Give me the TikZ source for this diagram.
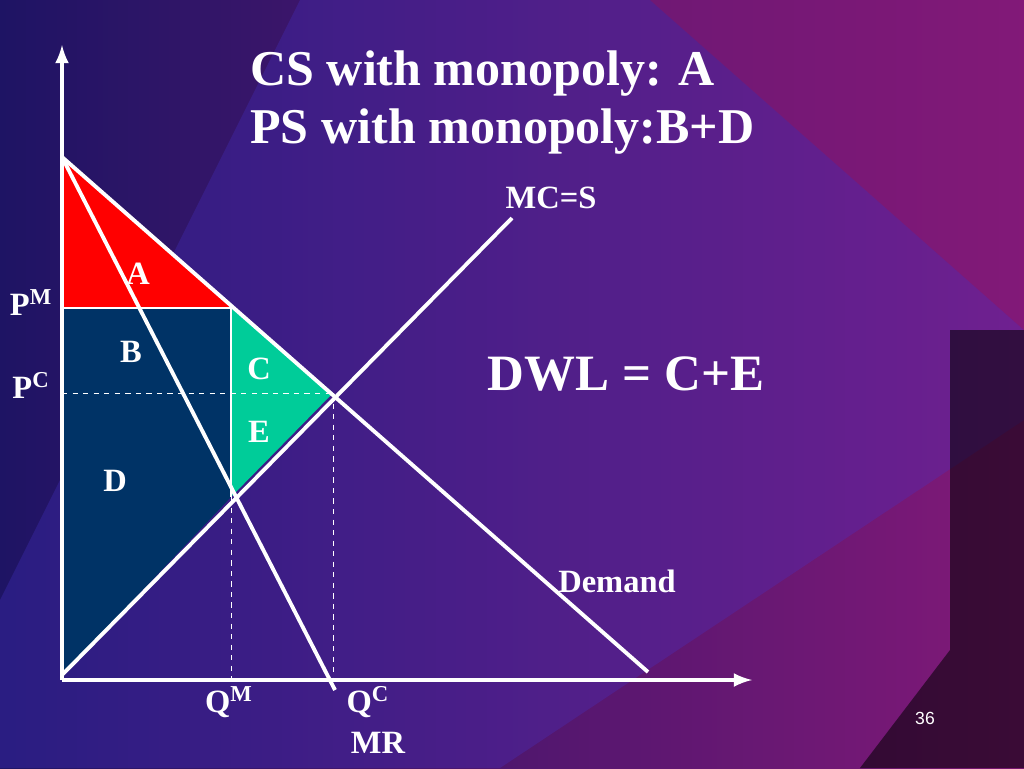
\documentclass[tikz,border=0pt]{standalone}
\usepackage{fontspec}
\setmainfont{Liberation Serif}
\newfontfamily\slidesans{Liberation Sans}
\usetikzlibrary{positioning}
\definecolor{bgdark}{RGB}{30,20,100}
\definecolor{bgmag}{RGB}{130,25,120}
\definecolor{bgblue}{RGB}{70,50,200}
\definecolor{areared}{RGB}{255,0,0}
\definecolor{areanavy}{RGB}{0,51,102}
\definecolor{areagreen}{RGB}{0,204,153}
\tikzset{
  curve/.style = {white, line width = 2.2pt},
  guide/.style = {white, dashed, line width = 0.4pt},
  lbl/.style = {white, font = \bfseries\fontsize{18.5}{18.5}\selectfont, inner sep = 0pt},
}
\begin{document}
\begin{tikzpicture}[x = 0.02cm, y = -0.02cm]
      \useasboundingbox (0,0) rectangle (1024,768);
      % background
      \shade [left color = bgdark, right color = bgmag] (0,0) rectangle (1024,768);
      \fill [bgblue, opacity = 0.3] (300,0) -- (650,0) -- (1024,330) -- (1024,420) -- (500,768) -- (0,768) -- (0,600) -- cycle;
      \fill [bgmag, opacity = 0.5] (650,0) -- (1024,0) -- (1024,330) -- cycle;
      \fill [black, opacity = 0.55] (950,330) -- (1024,330) -- (1024,768) -- (860,768) -- (950,650) -- cycle;

      % areas
      \coordinate (top) at (62,157);
      \coordinate (origin) at (62,680);
      \coordinate (pm) at (62,308);
      \coordinate (pc) at (62,393);
      \coordinate (dm) at (231,308);
      \coordinate (eq) at (333,393);
      \coordinate (mcm) at (231,497);
      \fill [areared] (top) -- (dm) -- (pm) -- cycle;
      \fill [areanavy] (pm) -- (dm) -- (mcm) -- (62,675) -- cycle;
      \fill [areagreen] (dm) -- (eq) -- (mcm) -- cycle;

      % guides
      \draw [guide] (pc) -- (eq);
      \draw [guide] (mcm) -- (231,680);
      \draw [guide] (eq) -- (333,680);
      \draw [white, line width = 0.6pt] (pm) -- (dm) -- (mcm);

      % curves
      \coordinate (demand end) at (648,672);
      \coordinate (mc end) at (512,218);
      \coordinate (mr end) at (335,690);
      \draw [curve] (top) -- (demand end);
      \draw [curve] (62,675) -- (mc end);
      \draw [curve] (top) -- (mr end);

      % axes
      \draw [white, line width = 2.5pt, -latex] (origin) -- (62,45);
      \draw [white, line width = 2.5pt, -latex] (origin) -- (752,680);

      % area labels
      \node [lbl] (la) at (138,274) {A};
      \node [lbl] (lb) at (131,352) {B};
      \node [lbl] (lc) at (259,369) {C};
      \node [lbl] (le) at (259,432) {E};
      \node [lbl] (ld) at (115,481) {D};

      % axis labels
      \node [lbl] (lpm) at (31,303) {P\textsuperscript{M}};
      \node [lbl] (lpc) at (31,385) {P\textsuperscript{C}};
      \node [lbl] (lqm) at (229,702) {Q\textsuperscript{M}};
      \node [lbl] (lqc) at (368,702) {Q\textsuperscript{C}};
      \node [lbl] (lmr) at (378,743) {MR};
      \node [lbl] (ldem) at (617,581) {Demand};
      \node [lbl] (lmc) at (551,198) {MC=S};

      % titles
      \node [white, anchor = west, inner sep = 0pt, font = \bfseries\fontsize{28.5}{28.5}\selectfont] (t1) at (250,74) {CS with monopoly: A};
      \node [white, anchor = west, inner sep = 0pt, font = \bfseries\fontsize{28.5}{28.5}\selectfont] (t2) at (250,132) {PS with monopoly:B+D};
      \node [white, inner sep = 0pt, font = \bfseries\fontsize{29}{29}\selectfont] (dwl) at (626,374) {DWL = C+E};
      \node [white, inner sep = 0pt, font = \slidesans\fontsize{10}{10}\selectfont] (page) at (925,718) {36};
\end{tikzpicture}
\end{document}
